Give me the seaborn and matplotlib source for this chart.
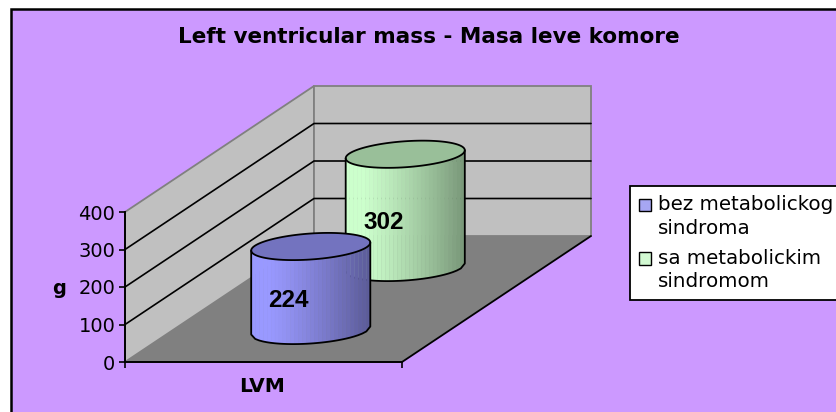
import numpy as np
import pandas as pd
import matplotlib
matplotlib.use("Agg")
import matplotlib.pyplot as plt
import seaborn as sns
from matplotlib.patches import Polygon, Rectangle

# values
categories = ["LVM"]
groups = ["bez metabolickog\nsindroma", "sa metabolickim\nsindromom"]
values = [224, 302]
colors = ["#9999FF", "#CCFFCC"]
depths = [0.25, 0.75]
yticks = [0, 100, 200, 300, 400]

W, H = 836, 412
DEPTH_X, DEPTH_Y = 189, 126
PANEL = "#CC99FF"

df = pd.DataFrame({"cat": categories * 2, "group": groups, "value": values})

sns.set_theme(style="white")
plt.rcParams["font.family"] = ["DejaVu Sans"]

fig = plt.figure(figsize=(W / 100, H / 100), dpi=100, facecolor="white")

# full figure axes in pixels, for everything that sits behind the bars
bg = fig.add_axes([0, 0, 1, 1], zorder=0)
bg.set_xlim(0, W)
bg.set_ylim(H, 0)
bg.axis("off")
bg.add_patch(Rectangle((10.5, 8.5), W, H, fc=PANEL, ec="black", lw=1.8))

ax = fig.add_axes([125 / W, (H - 362) / H, 277 / W, 150 / H], zorder=1)
ax.patch.set_alpha(0)
sns.barplot(data=df, x="cat", y="value", hue="group", palette=colors,
            dodge=False, width=0.43, ax=ax)
ax.set_xlim(-0.5, 0.5)
ax.set_ylim(0, 400)
ax.set_yticks(yticks)
ax.set_xticks([-0.5, 0.5])
ax.set_xticklabels(["", ""])
ax.set_xlabel("")
ax.set_ylabel("")
for s in ["top", "right"]:
    ax.spines[s].set_visible(False)
for s in ["left", "bottom"]:
    ax.spines[s].set_linewidth(1.4)
    ax.spines[s].set_color("black")
ax.tick_params(axis="both", length=4, width=1.2, color="black", left=True, bottom=True,
               labelsize=14, labelcolor="black", pad=3)


def project(x, v, depth=0.0):
    p = ax.transData.transform((x, v))
    p = p + np.array([depth * DEPTH_X, depth * DEPTH_Y])
    return bg.transData.inverted().transform(p)


# walls and floor
x0, x1 = ax.get_xlim()
bg.add_patch(Polygon([project(x0, 0), project(x1, 0), project(x1, 0, 1), project(x0, 0, 1)],
                     fc="#808080", ec="none"))
bg.add_patch(Polygon([project(x0, 0), project(x0, 400), project(x0, 400, 1), project(x0, 0, 1)],
                     fc="#C0C0C0", ec="#808080", lw=1.3))
bg.add_patch(Polygon([project(x0, 0, 1), project(x0, 400, 1), project(x1, 400, 1), project(x1, 0, 1)],
                     fc="#C0C0C0", ec="#808080", lw=1.3))
for t in yticks[1:-1]:
    pts = np.array([project(x0, t), project(x0, t, 1), project(x1, t, 1)])
    bg.plot(pts[:, 0], pts[:, 1], color="black", lw=1.2)
pts = np.array([project(x1, 0), project(x1, 0, 1)])
bg.plot(pts[:, 0], pts[:, 1], color="black", lw=1.3)

# bars become cylinders, using the geometry seaborn gave them
bars = [p for p in ax.patches if p.get_height() > 0]
TILT = 4
B = 13
for order in [1, 0]:
    bar = bars[order]
    bar.set_visible(False)
    cx = bar.get_x() + bar.get_width() / 2
    bx, by = project(cx, 0, depths[order])
    tx, ty = project(cx, bar.get_height(), depths[order])
    ex, _ = project(bar.get_x() + bar.get_width(), 0, depths[order])
    a = ex - bx
    base = np.array(matplotlib.colors.to_rgb(colors[order]))

    u = np.linspace(-1, 1, 31)
    front = B * np.sqrt(1 - u ** 2) - TILT * u
    for i in range(len(u) - 1):
        shade = 1.0 - 0.42 * max(0, (u[i] + 0.75) / 1.75) ** 1.2
        xs = bx + a * np.array([u[i], u[i + 1], u[i + 1], u[i]])
        ys = [ty + front[i], ty + front[i + 1], by + front[i + 1], by + front[i]]
        bg.add_patch(Polygon(np.column_stack([xs, ys]), fc=base * shade, ec=base * shade,
                             lw=0.3, zorder=3))
    t = np.linspace(0, 2 * np.pi, 120)
    ex_ = bx + a * np.cos(t)
    top_y = ty + B * np.sin(t) - TILT * np.cos(t)
    bg.add_patch(Polygon(np.column_stack([ex_, top_y]), fc=base * 0.75, ec="black", lw=1.3, zorder=3))
    # outline of the body
    ox = np.r_[bx - a, bx + a * u, bx + a]
    oy = np.r_[ty + TILT, by + front, ty - TILT]
    bg.plot(ox, oy, color="black", lw=1.3, zorder=3)
    bg.text(bx - 22, (by + ty) / 2 + 12, str(values[order]), ha="center", va="center",
            fontsize=17.5, fontweight="bold", family="Liberation Sans", color="black", zorder=4)

# text
bold = dict(fontweight="bold", family="DejaVu Sans", color="black", ha="center", va="center")
bg.text(429, 37, "Left ventricular mass - Masa leve komore", fontsize=15.5, **bold)
bg.text(262, 386, categories[0], fontsize=14.5, **bold)
bg.text(59, 288, "g", fontsize=14, **bold)

# legend
handles, labels = ax.get_legend_handles_labels()
ax.get_legend().remove()
leg = bg.legend(handles, labels, loc="upper left", bbox_to_anchor=(630 / W, 1 - 186 / H),
                bbox_transform=fig.transFigure, borderaxespad=0, frameon=True, fancybox=False,
                edgecolor="black", facecolor="white", framealpha=1, fontsize=14.3,
                labelcolor="black", handlelength=0.6, handleheight=0.6, handletextpad=0.35,
                labelspacing=0.55, borderpad=0.45)
leg.get_frame().set_linewidth(1.3)
leg.set_zorder(5)
for txt in leg.get_texts():
    txt.set_linespacing(1.32)
# swatches line up with the first text line, not the middle of the label
for h in leg.legend_handles:
    h.set_edgecolor("black")
    h.set_linewidth(1)
    h.set_y(h.get_y() + 8.6)

fig.savefig("out.png", dpi=100)
